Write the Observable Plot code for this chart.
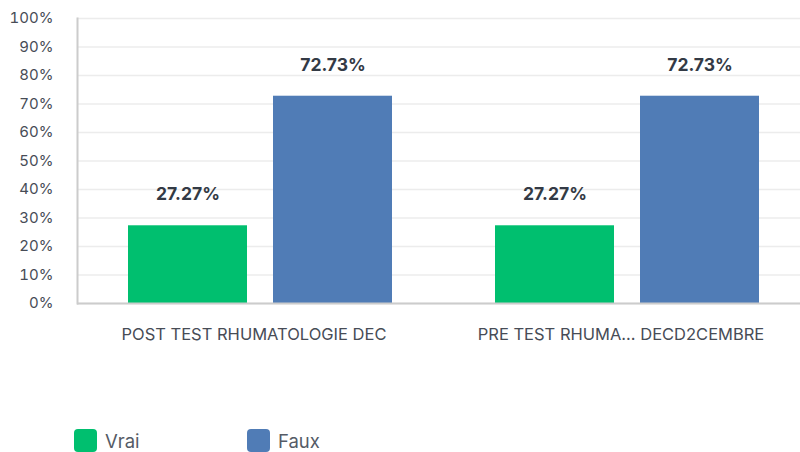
<!DOCTYPE html>
<html>
<head>
<meta charset="utf-8">
<script src="https://cdn.jsdelivr.net/npm/d3@7"></script>
<script src="https://cdn.jsdelivr.net/npm/@observablehq/plot@0.6"></script>
<style>
  html, body { margin: 0; padding: 0; background: #fff; overflow: hidden; }
  body { font-family: Inter, "Noto Sans", sans-serif; width: 800px; height: 452px; }
  #legend { display: flex; margin-top: 49px; padding-left: 74px; font-size: 18.5px; color: #555b66; }
  .item { display: flex; align-items: center; width: 173px; }
  .sw { width: 23px; height: 23px; border-radius: 4px; margin-right: 8px; }
</style>
</head>
<body>
<div id="chart"></div>
<div id="legend"></div>
<script>
const groups = ["POST TEST RHUMATOLOGIE DEC", "PRE TEST RHUMA... DECD2CEMBRE"];
const series = ["Vrai", "Faux"];
const colors = ["#00BF6F", "#507CB6"];
const vraiValues = [27.27, 27.27];
const fauxValues = [72.73, 72.73];
const yTicks = [0, 10, 20, 30, 40, 50, 60, 70, 80, 90, 100];

const data = [];
groups.forEach((g, i) => {
  data.push({group: g, series: "Vrai", value: vraiValues[i]});
  data.push({group: g, series: "Faux", value: fauxValues[i]});
});

const chart = Plot.plot({
  width: 800,
  height: 380,
  marginLeft: 77,
  marginRight: -11,
  marginTop: 18,
  marginBottom: 77,
  style: {fontFamily: "Inter, sans-serif", background: "#fff"},
  fx: {domain: groups, padding: 0, label: null, axis: null},
  x: {domain: series, paddingInner: 0.178, paddingOuter: 0.346, axis: null},
  y: {domain: [0, 100], axis: null},
  color: {domain: series, range: colors},
  marks: [
    Plot.ruleY(yTicks, {stroke: "#ececec", strokeWidth: 1.5}),
    Plot.barY(data, {fx: "group", x: "series", y: "value", fill: "series"}),
    Plot.text(data, {fx: "group", x: "series", y: "value", text: d => d.value.toFixed(2) + "%", dy: -31,
      fontSize: 17.5, fontWeight: "bold", fill: "#333a45"}),
    Plot.ruleY([0], {stroke: "#cccccc", strokeWidth: 2}),
    Plot.axisY({ticks: yTicks, tickSize: 0, tickPadding: 24, tickFormat: d => d + "%", fontSize: 15, color: "#474c56", label: null}),
    Plot.axisFx({anchor: "bottom", tickSize: 0, tickPadding: 25, dx: -7, fontSize: 16.5, color: "#474c56", label: null}),
    Plot.frame({anchor: "left", stroke: "#cccccc", strokeWidth: 2, facetAnchor: "left"})
  ]
});
document.getElementById("chart").appendChild(chart);

const legend = document.getElementById("legend");
series.forEach((s, i) => {
  const item = document.createElement("div");
  item.className = "item";
  item.innerHTML = `<span class="sw" style="background:${colors[i]}"></span><span>${s}</span>`;
  legend.appendChild(item);
});
</script>
</body>
</html>
